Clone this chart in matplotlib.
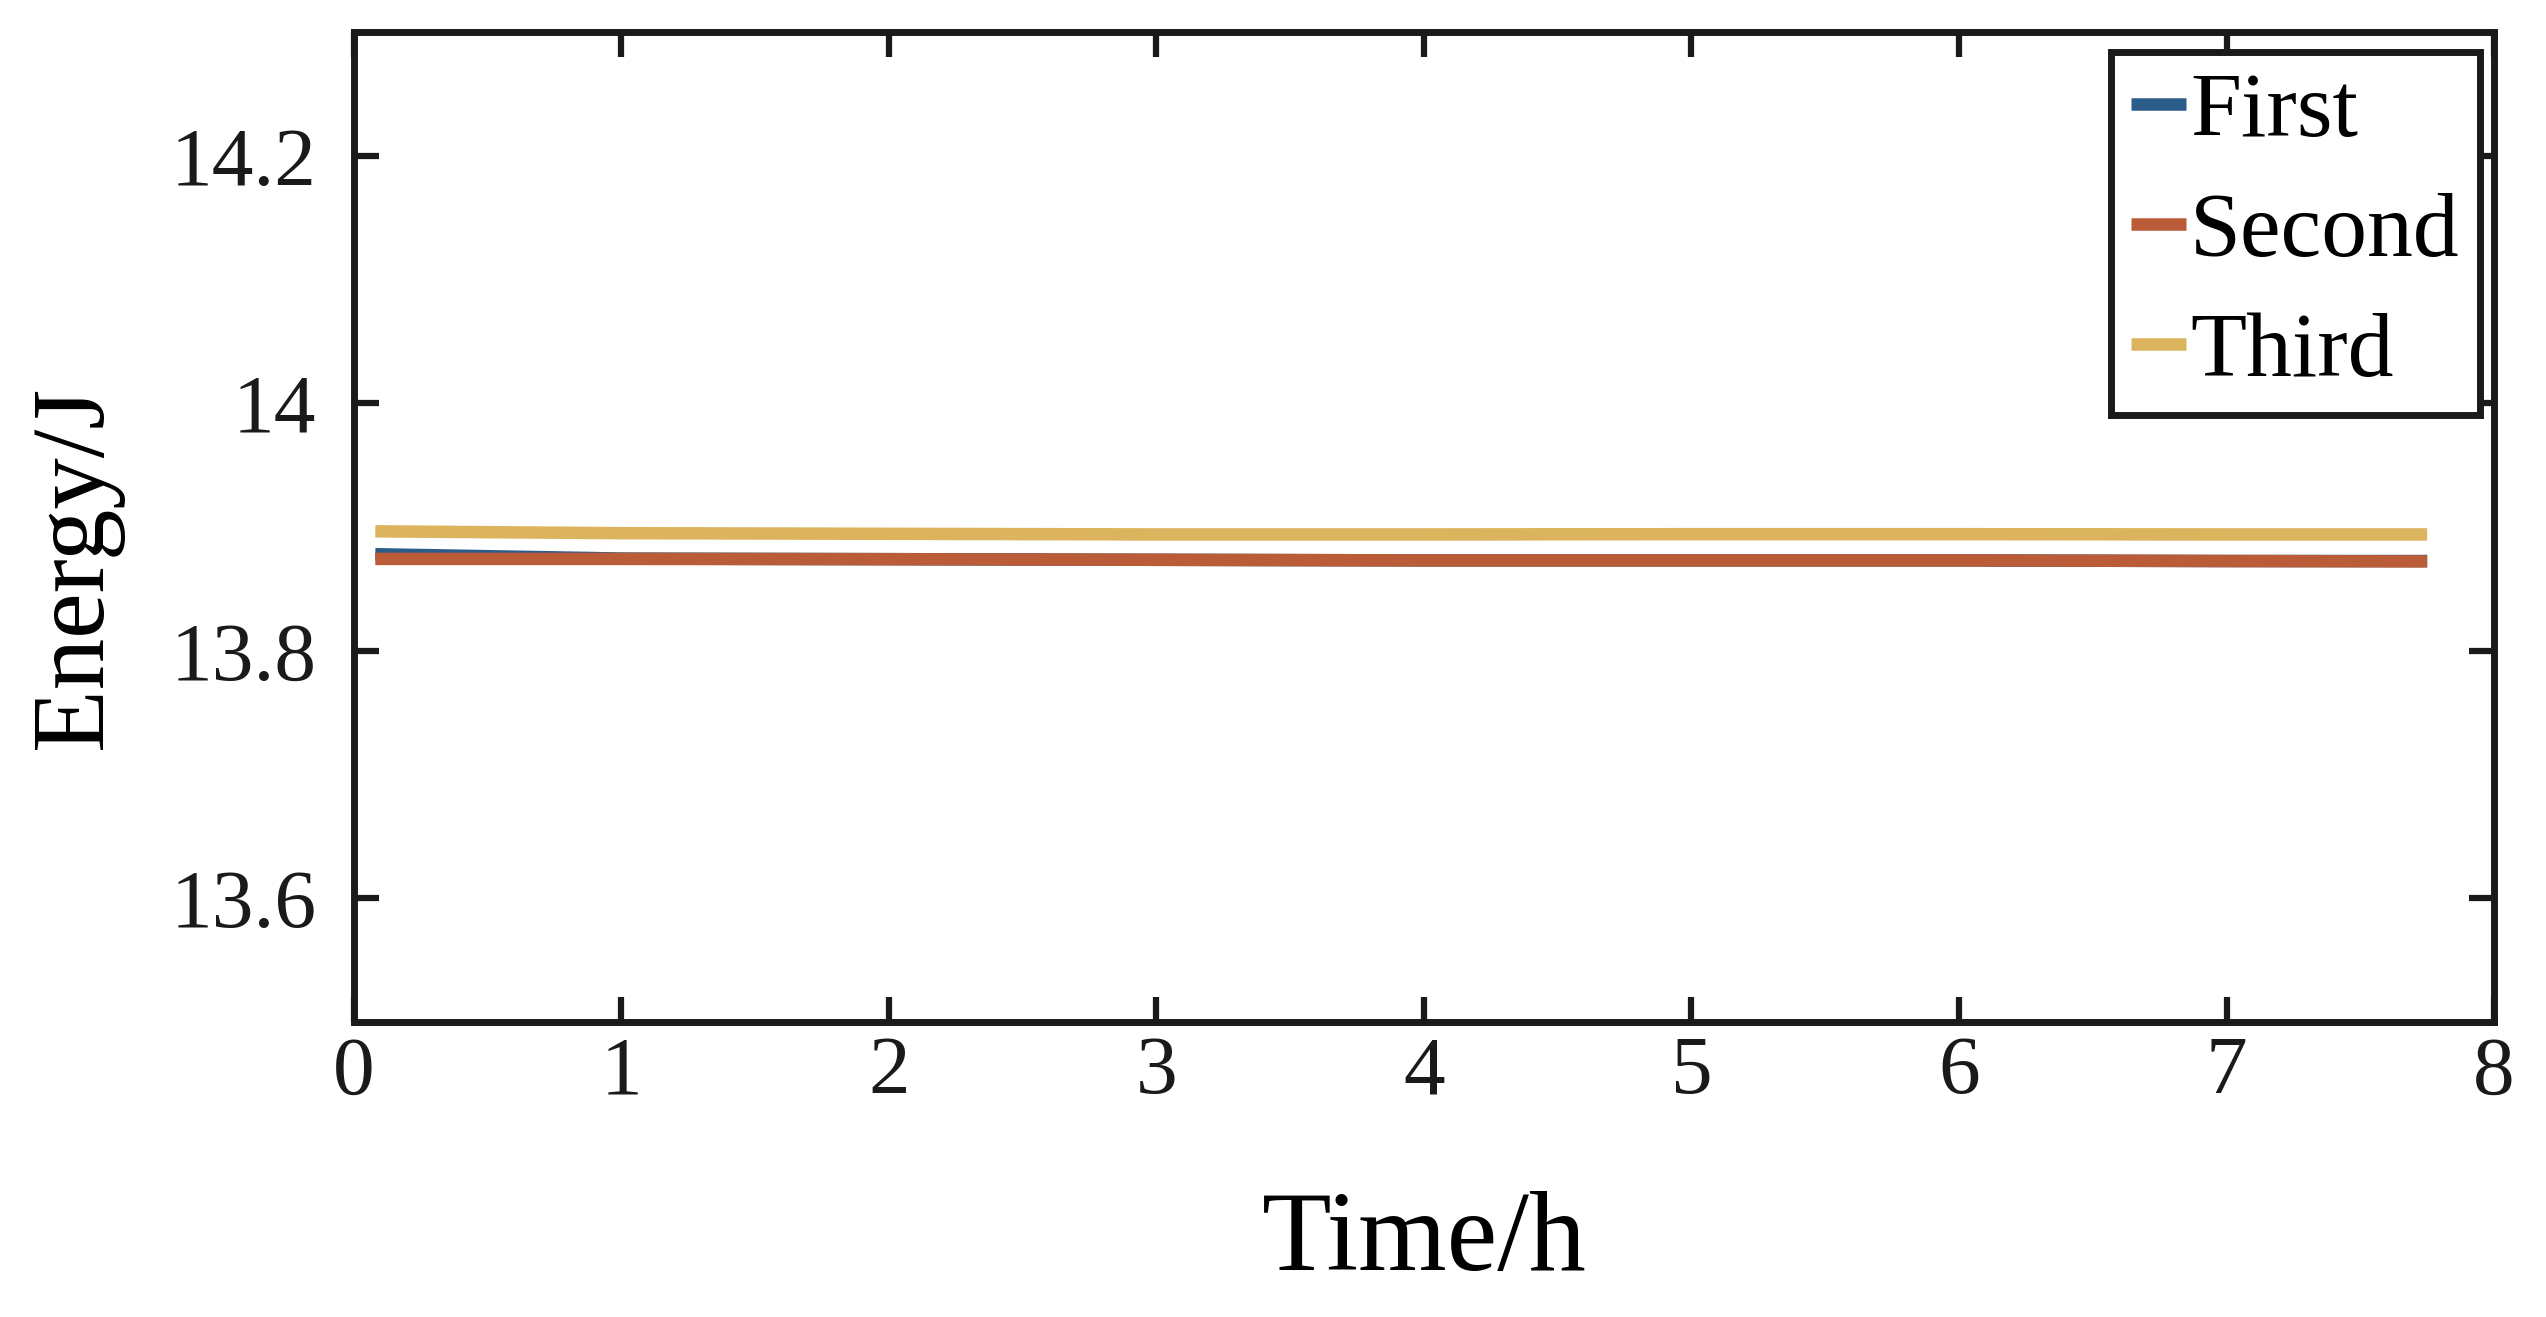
import matplotlib
matplotlib.use('Agg')
import matplotlib.pyplot as plt
from matplotlib.ticker import FuncFormatter

# time (h) and battery energy (J)
time_h = [0.08, 1, 2, 3, 4, 5, 6, 7, 7.75]
first = [13.878, 13.8745, 13.874, 13.8735, 13.873, 13.873, 13.873, 13.8725, 13.8725]
second = [13.8742, 13.8742, 13.874, 13.8735, 13.873, 13.873, 13.873, 13.8725, 13.8722]
third = [13.8965, 13.895, 13.8945, 13.894, 13.894, 13.8942, 13.8942, 13.894, 13.894]

series_names = ['First', 'Second', 'Third']
colors = {
    'First': '#2c5d8a',   # blue
    'Second': '#bb5c38',  # red
    'Third': '#dcb45e',   # yellow
}

x_ticks = [0, 1, 2, 3, 4, 5, 6, 7, 8]
y_ticks = [13.6, 13.8, 14.0, 14.2]

plt.rcParams['font.family'] = ['Liberation Serif', 'DejaVu Serif']

fig = plt.figure(figsize=(25.46, 13.17), dpi=100)
ax = fig.add_axes([0.139, 0.224, 0.8406, 0.7517])

for name, vals in zip(series_names, [first, second, third]):
    ax.plot(time_h, vals, color=colors[name], lw=9, label=name, solid_capstyle='butt')

ax.set_xlim(0, 8)
ax.set_ylim(13.5, 14.3)
ax.set_xticks(x_ticks)
ax.set_yticks(y_ticks)
ax.yaxis.set_major_formatter(FuncFormatter(lambda v, p: f'{v:g}'))

ax.tick_params(direction='in', length=18, width=4.5, top=True, right=True,
               labelsize=60, colors='#1a1a1a')
ax.tick_params(axis='x', pad=10)
ax.tick_params(axis='y', pad=27)
for sp in ax.spines.values():
    sp.set_linewidth(5)
    sp.set_color('#1a1a1a')

ax.set_xlabel('Time/h', fontsize=82)
ax.set_ylabel('Energy/J', fontsize=74)
ax.xaxis.set_label_coords(0.5, -0.17)
ax.yaxis.set_label_coords(-0.108, 0.459)

leg = ax.legend(loc='upper right', bbox_to_anchor=(0.9935, 0.98), borderaxespad=0,
                fontsize=66, handlelength=0.6, handletextpad=0.05, borderpad=0.22,
                labelspacing=0.4, fancybox=False, framealpha=1)
leg.get_frame().set_edgecolor('#1a1a1a')
leg.get_frame().set_linewidth(5)

plt.savefig('out.png', dpi=100)
plt.close()
